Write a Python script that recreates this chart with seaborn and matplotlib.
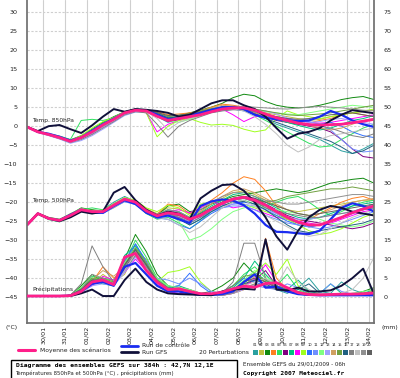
import numpy as np
import pandas as pd
import matplotlib
matplotlib.use('Agg')
import matplotlib.pyplot as plt
import seaborn as sns
from matplotlib.lines import Line2D
from matplotlib.patches import Rectangle

# échéances (h) depuis le run du 29/01/2009 06h
hours = list(range(0, 385, 12))
day_hours = [18 + 24 * k for k in range(16)]
day_labels = ['30/01', '31/01', '01/02', '02/02', '03/02', '04/02', '05/02', '06/02',
              '07/02', '08/02', '09/02', '10/02', '11/02', '12/02', '13/02', '14/02']

members = ['%02d' % (k + 1) for k in range(20)]
member_colors = ['#2aa0a0', '#c0c040', '#108a10', '#ff8020', '#30e060', '#800080', '#00c080',
                 '#ff00ff', '#a0ff20', '#3070ff', '#7090ff', '#80ff80', '#a0a0ff', '#d0a060',
                 '#70a040', '#206080', '#808080', '#c0c0c0', '#909090', '#606060']

# Temp 850hPa (°C)
t850_mean = [-0.2, -1.5, -2.2, -3.0, -4.0, -3.0, -1.5, 0.3, 1.8, 3.5, 4.2, 4.0, 2.6, 1.5, 2.0, 2.5, 3.0,
             3.8, 4.5, 4.8, 4.8, 4.2, 3.2, 2.2, 1.5, 0.8, 0.4, 0.3, 0.4, 0.5, 0.9, 1.3, 1.8]
t850_ctrl = [-0.2, -1.5, -2.0, -2.8, -3.8, -3.0, -1.2, 0.5, 2.0, 3.5, 4.3, 4.2, 3.0, 1.8, 2.0, 2.8, 3.5,
             4.3, 5.0, 5.0, 4.5, 3.0, 2.2, 1.8, 1.5, 1.3, 1.5, 2.5, 4.0, 3.0, 1.5, 0.5, -0.2]
t850_gfs = [-0.2, -1.3, 0.0, 0.3, -0.8, -1.8, 0.2, 2.5, 4.5, 3.8, 4.5, 4.3, 4.0, 3.5, 2.5, 3.0, 4.5,
            6.0, 6.8, 6.8, 5.5, 4.5, 2.5, -0.5, -3.3, -2.0, -1.5, -0.5, 1.5, 3.0, 4.2, 3.8, 3.4]
t850_members = [
    [-0.2, -1.4, -2.0, -2.9, -3.8, -2.7, -1.0, 0.8, 2.2, 3.6, 4.3, 3.8, 2.5, 1.0, 1.8, 2.6, 3.3, 4.0, 4.6, 4.8, 4.5, 3.5, 2.0, 0.5, -0.5, -1.5, -2.5, -3.5, -5.0, -6.5, -7.2, -6.0, -4.5],
    [-0.2, -1.6, -2.3, -3.1, -4.2, -3.3, -1.8, 0.0, 1.5, 3.2, 4.0, 4.1, 3.5, 2.5, 2.8, 3.0, 3.5, 4.2, 5.0, 5.2, 4.8, 4.0, 3.5, 3.0, 2.5, 2.0, 1.5, 1.8, 2.5, 3.0, 3.5, 3.8, 4.2],
    [-0.2, -1.5, -2.1, -2.8, -3.6, -2.5, -0.8, 1.0, 2.5, 3.8, 4.5, 4.2, 3.2, 2.0, 2.8, 3.5, 4.2, 5.0, 6.0, 7.5, 8.4, 8.0, 6.5, 5.5, 5.0, 4.8, 5.0, 5.5, 6.2, 7.0, 7.5, 7.8, 7.0],
    [-0.2, -1.5, -2.4, -3.2, -4.1, -3.2, -1.6, 0.2, 1.8, 3.4, 4.2, 4.3, 3.8, 3.0, 3.2, 3.5, 4.0, 5.0, 5.8, 5.5, 5.0, 4.0, 3.0, 2.0, 1.0, 0.5, 0.8, 1.5, 2.0, 3.0, 3.5, 3.0, 2.5],
    [-0.2, -1.4, -2.0, -2.6, -3.5, 1.5, 1.8, 1.5, 2.2, 3.8, 4.5, 4.0, 3.0, 2.0, 2.5, 3.0, 3.8, 4.5, 5.0, 5.2, 4.5, 3.0, 1.5, 0.0, -1.5, -3.0, -4.5, -5.5, -5.2, -3.5, -2.0, -0.5, 0.5],
    [-0.2, -1.5, -2.2, -3.1, -4.0, -3.1, -1.5, 0.4, 2.0, 3.6, 4.2, 3.9, 2.8, 1.2, 1.8, 2.6, 3.2, 4.0, 4.5, 4.6, 4.2, 3.5, 2.5, 1.5, 1.0, 0.5, 0.0, -0.5, -1.5, -3.5, -6.0, -8.0, -8.4],
    [-0.2, -1.5, -2.1, -3.0, -3.9, -2.8, -1.2, 0.6, 2.0, 3.6, 4.3, 4.1, 3.3, 2.2, 2.5, 2.8, 3.5, 4.2, 4.8, 5.0, 4.6, 3.8, 2.8, 1.8, 1.0, 0.2, -0.5, -1.0, -0.5, 0.5, 1.5, 2.0, 2.8],
    [-0.2, -1.6, -2.3, -3.0, -4.0, -3.0, -1.4, 0.4, 1.9, 3.5, 4.0, 3.5, -1.5, 0.5, 1.5, 2.2, 3.0, 4.0, 4.5, 3.0, 1.2, 2.5, 3.0, 2.5, 2.0, 1.5, 1.0, 0.8, 1.0, 1.5, 2.0, 2.5, 3.0],
    [-0.2, -1.4, -2.1, -2.9, -3.8, -2.5, -0.5, 1.2, 2.3, 3.8, 4.4, 3.5, -2.8, 0.0, 1.5, 2.0, 1.0, 0.3, 0.5, 0.2, -0.8, -1.5, -1.0, 2.0, 4.0, 3.0, 2.5, 2.0, 2.5, 3.0, 3.5, 4.0, 4.5],
    [-0.2, -1.5, -2.2, -3.1, -4.1, -3.2, -1.8, 0.0, 1.6, 3.3, 4.1, 4.0, 3.2, 1.8, 2.2, 2.8, 3.5, 4.2, 4.6, 4.5, 4.0, 3.0, 2.5, 2.0, 1.5, 1.0, 0.5, 0.5, 1.0, 0.0, -1.5, -2.5, -3.0],
    [-0.2, -1.5, -2.3, -3.2, -4.3, -3.5, -2.0, -0.2, 1.4, 3.0, 3.9, 4.0, 3.5, 2.5, 2.5, 2.8, 3.2, 3.8, 4.2, 4.5, 4.4, 3.8, 3.0, 2.2, 1.8, 1.5, 1.2, 0.5, -1.0, -3.5, -6.0, -6.8, -6.5],
    [-0.2, -1.4, -2.0, -2.7, -3.7, -2.8, -1.0, 0.7, 2.1, 3.7, 4.4, 4.0, 3.0, 1.5, 1.0, 1.8, 2.8, 3.8, 4.6, 4.9, 4.8, 4.3, 3.8, 3.5, 3.2, 3.0, 3.5, 4.0, 4.5, 5.0, 5.5, 5.2, 5.0],
    [-0.2, -1.7, -2.5, -3.4, -4.5, -3.8, -2.5, -0.8, 1.0, 2.8, 3.7, 3.8, 3.4, 2.5, 2.3, 2.5, 3.0, 3.6, 4.1, 4.4, 4.6, 4.4, 4.0, 3.2, 2.2, 1.5, 1.0, 1.2, 1.8, 2.0, 1.5, 1.0, 0.5],
    [-0.2, -1.5, -2.2, -3.0, -4.0, -3.0, -1.3, 0.4, 1.9, 3.5, 4.2, 4.0, 3.1, 2.0, 2.5, 3.2, 4.0, 4.8, 5.5, 5.3, 4.5, 3.5, 2.5, 1.8, 1.2, 0.8, 0.2, -0.5, -1.0, -0.5, 0.5, 1.5, 2.0],
    [-0.2, -1.5, -2.2, -2.9, -3.8, -2.8, -1.2, 0.5, 2.0, 3.6, 4.3, 4.2, 3.5, 2.5, 2.8, 3.3, 4.0, 4.6, 5.0, 5.0, 4.8, 4.5, 4.0, 3.5, 3.0, 2.8, 3.0, 3.2, 3.5, 4.0, 4.5, 5.0, 5.5],
    [-0.2, -1.5, -2.2, -3.1, -4.0, -3.0, -1.5, 0.2, 1.7, 3.4, 4.1, 4.0, 3.3, 2.2, 2.4, 2.8, 3.4, 4.0, 4.5, 4.6, 4.2, 3.2, 2.0, 1.0, 0.0, -1.0, -2.0, -3.0, -4.0, -5.5, -7.2, -6.5, -5.0],
    [-0.2, -1.6, -2.4, -3.3, -4.3, -3.5, -2.2, -0.5, 1.2, 3.0, 3.8, 3.5, 0.5, -2.9, 0.0, 1.5, 2.5, 3.5, 4.0, 4.3, 4.2, 3.8, 3.0, 2.0, 1.5, 1.0, 0.5, 0.0, -0.5, -1.5, -2.5, -3.0, -2.0],
    [-0.2, -1.5, -2.3, -3.2, -4.2, -3.3, -1.8, 0.0, 1.5, 3.2, 4.0, 3.8, 2.0, -1.0, 1.0, 2.0, 3.0, 3.8, 4.4, 4.6, 4.0, 2.5, 0.5, -2.0, -5.0, -6.8, -5.5, -3.5, -2.5, -2.0, -1.5, -1.0, -0.5],
    [-0.2, -1.5, -2.2, -3.0, -4.0, -3.1, -1.6, 0.2, 1.8, 3.4, 4.1, 4.0, 3.0, 1.8, 2.2, 2.8, 3.6, 4.4, 5.0, 5.2, 5.2, 5.0, 4.8, 4.6, 4.5, 4.8, 5.0, 5.2, 5.0, 4.8, 4.5, 4.2, 4.0],
    [-0.2, -1.5, -2.1, -2.9, -3.9, -2.9, -1.3, 0.5, 2.0, 3.6, 4.3, 4.2, 3.6, 2.8, 2.9, 3.2, 3.8, 4.4, 4.9, 5.0, 4.7, 4.0, 3.2, 2.5, 2.0, 1.8, 2.0, 2.5, 3.0, 3.2, 3.5, 3.0, 2.5],
]

# Temp 500hPa (°C)
t500_mean = [-26.0, -23.0, -24.3, -24.8, -23.5, -22.0, -22.5, -22.5, -20.8, -19.2, -20.0, -22.3, -23.6, -22.8,
             -23.2, -24.5, -23.5, -21.8, -20.3, -19.2, -18.7, -19.5, -20.8, -22.5, -24.0, -25.3, -26.0, -26.0,
             -25.0, -24.0, -22.8, -21.8, -21.0]
t500_ctrl = [-26.0, -23.0, -24.3, -24.8, -23.3, -22.0, -22.7, -22.8, -21.0, -19.5, -20.5, -22.8, -24.0, -23.5,
             -24.5, -25.5, -21.0, -19.8, -19.3, -19.6, -20.8, -23.0, -26.0, -27.8, -27.9, -28.2, -28.4, -27.5,
             -24.5, -21.5, -20.3, -21.0, -22.5]
t500_gfs = [-26.0, -23.0, -24.3, -25.0, -24.0, -22.5, -23.0, -22.5, -17.5, -16.0, -19.5, -22.0, -23.5, -22.5,
            -23.0, -24.5, -19.0, -17.0, -15.5, -15.3, -17.0, -20.0, -24.0, -29.0, -32.5, -27.5, -24.0, -22.0,
            -21.0, -21.5, -22.5, -23.0, -23.5]
t500_members = [
    [-26.0, -23.1, -24.5, -25.0, -23.8, -22.3, -22.5, -22.0, -20.0, -18.5, -19.8, -22.5, -24.0, -23.0, -24.0, -26.0, -24.5, -22.0, -20.5, -19.5, -19.0, -19.8, -21.5, -23.0, -24.5, -25.5, -26.5, -26.0, -25.0, -24.0, -22.5, -21.5, -20.5],
    [-26.0, -23.0, -24.2, -24.6, -23.0, -21.8, -22.0, -22.8, -21.5, -19.8, -20.0, -21.8, -23.0, -21.5, -21.8, -23.0, -22.5, -20.5, -19.0, -17.5, -17.0, -18.0, -19.5, -21.0, -22.0, -22.5, -22.0, -21.5, -21.0, -20.5, -20.0, -19.5, -19.5],
    [-26.0, -22.9, -24.0, -24.5, -23.2, -21.5, -22.0, -22.3, -20.5, -19.0, -19.8, -22.0, -23.5, -21.0, -20.5, -22.5, -22.0, -20.5, -19.5, -18.5, -18.0, -17.5, -17.0, -16.5, -17.0, -17.5, -17.0, -16.0, -15.0, -14.5, -14.0, -13.7, -15.0],
    [-26.0, -23.0, -24.4, -24.9, -23.6, -22.0, -22.6, -22.4, -20.6, -19.0, -19.6, -21.8, -23.2, -20.5, -21.0, -23.0, -21.5, -19.5, -17.5, -15.0, -13.3, -14.0, -17.0, -21.0, -24.0, -25.0, -24.5, -23.0, -21.5, -20.0, -19.0, -18.5, -19.5],
    [-26.0, -23.2, -24.6, -25.2, -24.0, -22.0, -21.5, -22.0, -20.8, -19.5, -20.5, -23.0, -24.5, -24.0, -25.5, -27.0, -25.0, -22.5, -21.0, -20.0, -19.5, -20.5, -21.0, -20.0, -19.0, -18.5, -20.0, -22.0, -23.5, -22.5, -21.0, -20.0, -19.5],
    [-26.0, -23.0, -24.3, -24.9, -23.4, -22.1, -22.6, -22.6, -20.9, -19.3, -20.2, -22.5, -24.0, -23.5, -24.0, -25.0, -23.5, -21.5, -20.0, -19.0, -18.5, -19.0, -20.5, -22.0, -23.5, -24.5, -25.0, -25.5, -26.0, -26.5, -27.0, -26.5, -25.5],
    [-26.0, -23.1, -24.2, -24.7, -23.3, -21.9, -22.4, -22.4, -20.7, -19.1, -20.0, -22.0, -23.3, -22.0, -22.5, -24.0, -22.8, -21.0, -19.5, -18.0, -17.5, -18.5, -20.0, -21.5, -23.0, -24.0, -24.5, -24.0, -23.0, -22.0, -21.0, -20.5, -20.0],
    [-26.0, -23.0, -24.4, -25.0, -23.7, -22.2, -22.8, -22.9, -21.2, -19.6, -20.3, -22.6, -23.8, -22.5, -22.0, -22.8, -21.5, -20.0, -20.5, -21.5, -21.0, -22.0, -23.0, -24.0, -24.5, -25.0, -25.5, -26.0, -25.5, -24.5, -23.5, -22.5, -22.0],
    [-26.0, -23.1, -24.3, -24.8, -23.5, -22.0, -22.3, -22.1, -20.4, -18.8, -19.5, -21.5, -22.5, -20.8, -21.5, -23.5, -20.5, -20.0, -19.5, -20.0, -20.5, -21.5, -22.5, -23.5, -24.5, -26.0, -27.5, -28.5, -28.0, -27.0, -25.5, -24.0, -23.0],
    [-26.0, -23.0, -24.3, -24.9, -23.5, -22.1, -22.6, -22.7, -21.0, -19.4, -20.2, -22.4, -24.2, -24.5, -26.0, -27.0, -25.0, -23.0, -21.5, -20.5, -20.0, -20.5, -22.0, -23.5, -25.0, -26.0, -26.5, -26.0, -25.0, -24.0, -23.0, -22.0, -21.5],
    [-26.0, -23.0, -24.5, -25.1, -23.9, -22.4, -22.9, -23.0, -21.4, -19.9, -20.6, -22.8, -24.2, -23.8, -24.5, -25.5, -24.0, -22.5, -21.5, -21.0, -21.0, -22.0, -23.5, -24.5, -25.5, -26.0, -26.5, -27.0, -26.5, -25.5, -24.5, -23.5, -22.5],
    [-26.0, -22.9, -24.1, -24.6, -23.1, -21.7, -22.2, -22.3, -20.6, -19.0, -19.8, -21.9, -23.4, -23.0, -25.0, -30.0, -29.0, -27.0, -24.5, -22.5, -21.5, -21.0, -21.5, -22.0, -22.5, -23.0, -23.5, -24.5, -25.5, -26.0, -26.5, -26.0, -25.0],
    [-26.0, -23.0, -24.4, -24.9, -23.6, -22.2, -22.7, -22.6, -20.9, -19.3, -20.1, -22.3, -23.6, -23.0, -23.8, -25.0, -23.5, -22.0, -21.0, -20.5, -20.5, -21.0, -22.0, -23.0, -24.0, -24.5, -24.5, -24.0, -23.5, -23.0, -22.5, -22.0, -21.5],
    [-26.0, -23.0, -24.2, -24.7, -23.4, -21.9, -22.3, -22.4, -20.8, -19.2, -19.9, -22.0, -23.4, -22.5, -23.0, -24.0, -22.5, -20.5, -18.5, -17.0, -16.5, -17.5, -19.0, -20.5, -22.0, -23.0, -23.5, -23.0, -22.0, -21.0, -20.0, -19.5, -19.0],
    [-26.0, -23.1, -24.3, -24.8, -23.5, -22.0, -22.5, -22.5, -20.8, -19.2, -20.0, -22.2, -23.5, -22.8, -23.5, -24.8, -23.0, -21.5, -20.0, -19.0, -18.8, -19.5, -20.0, -19.5, -18.5, -18.0, -17.5, -17.0, -16.5, -16.5, -16.0, -16.5, -17.0],
    [-26.0, -23.0, -24.3, -24.8, -23.5, -22.1, -22.6, -22.5, -20.9, -19.3, -20.2, -22.5, -24.0, -23.5, -24.5, -26.0, -24.5, -22.5, -21.0, -20.0, -19.8, -20.5, -22.0, -24.0, -26.0, -27.5, -28.0, -27.5, -27.0, -26.5, -26.0, -25.5, -24.5],
    [-26.0, -23.0, -24.4, -24.9, -23.6, -22.2, -22.7, -22.6, -20.9, -19.3, -20.0, -22.0, -23.5, -23.0, -24.0, -25.5, -24.0, -22.0, -20.5, -19.5, -19.0, -20.0, -21.5, -22.5, -23.0, -23.5, -24.0, -24.0, -23.5, -23.0, -22.5, -22.0, -21.5],
    [-26.0, -23.1, -24.5, -25.0, -23.8, -22.3, -22.8, -22.8, -21.1, -19.5, -20.3, -22.6, -24.0, -24.5, -26.0, -28.0, -26.5, -24.0, -21.5, -20.0, -19.5, -21.0, -23.5, -25.0, -26.5, -28.0, -29.0, -28.5, -27.0, -25.5, -24.0, -23.0, -22.0],
    [-26.0, -23.0, -24.2, -24.7, -23.3, -21.8, -22.3, -22.4, -20.6, -19.0, -19.8, -22.0, -23.2, -22.0, -22.5, -24.0, -22.0, -20.0, -18.5, -17.5, -17.5, -18.5, -19.5, -20.0, -20.5, -20.5, -20.0, -19.5, -19.0, -18.5, -18.0, -18.0, -18.5],
    [-26.0, -23.0, -24.3, -24.8, -23.4, -22.0, -22.5, -22.6, -20.8, -19.2, -20.0, -22.3, -23.6, -23.0, -23.5, -24.5, -23.0, -21.5, -20.0, -19.0, -18.5, -19.0, -20.0, -21.0, -22.0, -23.0, -23.5, -23.0, -22.5, -22.0, -21.5, -21.0, -20.5],
]

# Précipitations (mm)
rr_mean = [0.3, 0.3, 0.3, 0.3, 0.4, 1.5, 4.0, 4.5, 3.3, 10.5, 11.5, 7.0, 4.0, 2.0, 2.2, 1.5, 0.9,
           0.9, 1.3, 2.2, 2.9, 2.6, 3.6, 3.8, 2.5, 1.2, 0.7, 0.6, 0.7, 0.8, 0.8, 0.9, 1.1]
rr_ctrl = [0.3, 0.3, 0.3, 0.3, 0.4, 1.5, 3.5, 4.0, 3.0, 8.0, 9.0, 6.0, 3.0, 1.5, 1.5, 1.0, 0.6,
           0.6, 0.8, 1.5, 4.0, 6.0, 2.5, 2.8, 1.5, 0.8, 0.6, 0.5, 0.5, 0.5, 0.5, 0.5, 0.5]
rr_gfs = [0.3, 0.3, 0.3, 0.3, 0.3, 1.0, 2.0, 0.3, 0.3, 4.5, 7.5, 4.0, 2.0, 1.0, 0.8, 0.7, 0.6,
          0.5, 1.5, 2.0, 2.2, 2.0, 15.2, 2.0, 1.8, 2.5, 1.5, 1.5, 1.8, 3.0, 5.0, 7.5, 0.8]
rr_members = [
    [0.3, 0.3, 0.3, 0.3, 0.5, 2.0, 5.0, 4.5, 3.0, 8.0, 14.0, 9.0, 4.0, 2.0, 1.5, 1.0, 0.6, 0.5, 0.8, 2.0, 4.0, 6.5, 4.5, 2.0, 1.0, 2.5, 5.0, 1.5, 1.0, 4.0, 2.0, 1.0, 2.0],
    [0.3, 0.3, 0.3, 0.3, 0.4, 1.5, 3.5, 6.0, 4.0, 6.0, 12.0, 10.0, 5.0, 2.5, 2.0, 1.5, 1.0, 0.5, 0.5, 1.0, 2.0, 3.5, 3.0, 2.5, 1.5, 1.0, 0.5, 0.5, 0.5, 0.5, 0.8, 1.0, 1.0],
    [0.3, 0.3, 0.3, 0.3, 0.5, 3.0, 6.0, 4.0, 3.5, 10.0, 16.5, 12.0, 6.0, 3.0, 2.0, 1.5, 1.0, 1.5, 3.0, 5.0, 9.0, 6.0, 4.0, 3.0, 2.0, 1.0, 0.8, 0.5, 0.5, 0.5, 0.8, 1.5, 2.5],
    [0.3, 0.3, 0.3, 0.3, 0.4, 2.0, 4.0, 8.0, 5.0, 7.0, 11.0, 8.0, 4.5, 2.0, 2.5, 2.0, 1.0, 0.5, 0.5, 1.0, 2.0, 3.0, 15.5, 5.0, 2.0, 1.0, 0.5, 0.5, 0.5, 0.8, 1.0, 1.0, 1.5],
    [0.3, 0.3, 0.3, 0.3, 0.5, 2.5, 5.5, 5.0, 4.5, 9.0, 15.0, 10.5, 5.0, 3.0, 2.5, 1.5, 0.8, 0.5, 1.0, 3.0, 6.0, 8.0, 5.0, 3.0, 6.0, 2.0, 1.0, 0.8, 0.5, 0.5, 0.5, 0.5, 0.5],
    [0.3, 0.3, 0.3, 0.3, 0.4, 1.8, 4.0, 5.0, 3.5, 7.5, 12.0, 8.5, 4.0, 2.0, 1.5, 1.0, 0.5, 0.5, 0.5, 1.5, 3.0, 4.5, 7.0, 3.0, 1.5, 0.8, 0.5, 0.5, 0.5, 0.5, 0.5, 0.5, 0.5],
    [0.3, 0.3, 0.3, 0.3, 0.5, 2.2, 4.5, 3.5, 3.0, 11.0, 13.5, 9.0, 4.5, 2.5, 3.0, 2.0, 1.0, 0.5, 1.0, 2.5, 5.0, 9.5, 6.0, 3.0, 2.0, 4.5, 1.5, 1.0, 3.5, 1.0, 0.8, 0.5, 0.8],
    [0.3, 0.3, 0.3, 0.3, 0.4, 1.5, 3.0, 5.5, 4.5, 6.5, 10.0, 7.0, 3.5, 1.5, 1.0, 0.8, 0.5, 0.5, 0.5, 1.0, 2.5, 5.0, 8.5, 4.0, 2.0, 1.0, 0.5, 0.5, 0.5, 0.5, 0.5, 0.5, 0.5],
    [0.3, 0.3, 0.3, 0.3, 0.5, 2.0, 5.0, 4.0, 3.5, 8.5, 12.5, 8.0, 4.0, 6.5, 7.0, 8.0, 4.0, 1.5, 1.0, 2.0, 3.5, 6.5, 9.0, 6.0, 10.0, 3.0, 1.0, 0.5, 0.5, 1.0, 0.8, 0.5, 0.5],
    [0.3, 0.3, 0.3, 0.3, 0.5, 2.0, 4.5, 4.0, 3.5, 9.5, 14.0, 9.5, 4.5, 2.5, 3.0, 6.3, 3.0, 1.0, 1.5, 3.0, 5.0, 4.0, 3.0, 2.0, 1.5, 1.0, 0.8, 0.5, 0.5, 0.8, 1.0, 1.0, 1.0],
    [0.3, 0.3, 0.3, 0.3, 0.4, 1.5, 3.5, 4.0, 3.0, 7.0, 11.0, 8.0, 5.0, 4.5, 3.5, 5.0, 3.5, 1.5, 1.0, 1.5, 2.5, 3.0, 2.5, 2.0, 3.5, 2.5, 1.0, 1.0, 3.5, 1.5, 0.8, 0.5, 0.5],
    [0.3, 0.3, 0.3, 0.3, 0.5, 2.5, 5.0, 4.5, 4.0, 9.0, 13.0, 9.0, 5.0, 3.0, 2.5, 2.0, 1.0, 0.5, 0.8, 2.0, 4.5, 7.0, 5.5, 3.5, 2.5, 1.5, 1.0, 0.8, 0.5, 0.8, 1.0, 1.5, 2.0],
    [0.3, 0.3, 0.3, 0.3, 0.4, 1.2, 3.0, 3.5, 3.0, 6.5, 10.5, 7.5, 4.0, 2.0, 1.5, 1.0, 0.8, 0.5, 0.5, 1.0, 2.0, 3.0, 3.5, 2.5, 1.5, 1.0, 0.8, 0.5, 0.5, 0.5, 0.5, 0.5, 0.5],
    [0.3, 0.3, 0.3, 0.3, 0.5, 1.8, 4.5, 7.0, 5.5, 8.0, 12.0, 8.5, 4.0, 2.0, 1.5, 1.2, 0.8, 0.5, 0.5, 1.2, 3.0, 5.5, 4.0, 2.5, 1.5, 1.0, 0.8, 0.5, 0.5, 0.5, 0.5, 0.5, 0.8],
    [0.3, 0.3, 0.3, 0.3, 0.5, 2.2, 5.0, 5.0, 4.0, 8.5, 13.0, 9.0, 4.5, 2.5, 2.0, 1.5, 1.0, 0.8, 1.5, 3.0, 5.5, 6.0, 4.5, 3.0, 2.0, 1.5, 1.0, 0.8, 0.5, 0.5, 0.8, 1.0, 1.5],
    [0.3, 0.3, 0.3, 0.3, 0.5, 2.0, 4.5, 4.5, 3.5, 8.0, 12.5, 8.5, 4.0, 2.0, 1.5, 1.0, 0.8, 0.5, 0.8, 2.0, 3.5, 4.5, 3.5, 2.0, 1.5, 2.0, 3.5, 1.0, 0.8, 0.5, 0.5, 0.5, 0.5],
    [0.3, 0.3, 0.3, 0.3, 0.5, 3.5, 13.5, 8.0, 4.0, 7.0, 11.0, 8.0, 4.0, 2.0, 1.5, 1.0, 0.6, 0.5, 1.0, 4.0, 14.2, 14.2, 5.0, 2.5, 1.5, 1.0, 0.8, 0.5, 0.5, 0.5, 0.5, 0.8, 1.0],
    [0.3, 0.3, 0.3, 0.3, 0.4, 1.5, 4.0, 4.5, 3.0, 7.0, 11.5, 7.5, 4.0, 2.0, 1.5, 1.0, 0.6, 0.5, 0.5, 1.5, 3.0, 4.0, 5.0, 3.0, 8.0, 4.0, 2.0, 1.0, 0.8, 1.0, 2.0, 5.0, 10.5],
    [0.3, 0.3, 0.3, 0.3, 0.4, 2.0, 6.0, 5.0, 3.5, 8.0, 12.0, 8.0, 4.0, 2.0, 1.5, 1.0, 0.6, 0.5, 0.5, 1.0, 2.5, 3.5, 3.0, 2.0, 1.5, 1.0, 0.8, 0.5, 0.5, 0.5, 0.5, 0.5, 0.5],
    [0.3, 0.3, 0.3, 0.3, 0.5, 2.0, 4.5, 4.5, 3.5, 8.5, 12.5, 8.5, 4.0, 2.0, 1.5, 1.0, 0.8, 0.5, 0.8, 2.0, 4.0, 5.0, 4.0, 2.5, 1.5, 1.0, 0.8, 0.6, 0.5, 0.5, 0.5, 0.5, 0.5],
]

MEAN_C = '#ff1f8a'
CTRL_C = '#1a2cf0'
GFS_C = '#10103a'
TXT = '#222222'


def to_long(series_list):
    rows = []
    for name, vals in zip(members, series_list):
        for h, v in zip(hours, vals):
            rows.append((name, h, v))
    return pd.DataFrame(rows, columns=['run', 'hour', 'value'])


sns.set_theme(style='white')
plt.rcParams['font.family'] = ['DejaVu Sans']

fig = plt.figure(figsize=(4, 3.78), dpi=100)
ax = fig.add_axes([27 / 400, 55 / 378, 347 / 400, 323 / 378])
ax.set_xlim(0, 384)
ax.set_ylim(-51.8, 33.2)
ax2 = ax.twinx()
ax2.set_ylim(-6.8, 78.2)

palette = dict(zip(members, member_colors))

for ser, axx in [(t850_members, ax), (t500_members, ax), (rr_members, ax2)]:
    sns.lineplot(data=to_long(ser), x='hour', y='value', hue='run', palette=palette,
                 estimator=None, lw=0.7, legend=False, ax=axx)

for ctrl, gfs, mean, axx in [(t850_ctrl, t850_gfs, t850_mean, ax),
                             (t500_ctrl, t500_gfs, t500_mean, ax),
                             (rr_ctrl, rr_gfs, rr_mean, ax2)]:
    sns.lineplot(x=hours, y=ctrl, color=CTRL_C, lw=1.6, ax=axx)
    sns.lineplot(x=hours, y=gfs, color=GFS_C, lw=1.4, ax=axx)
    sns.lineplot(x=hours, y=mean, color=MEAN_C, lw=2.0, ax=axx)

# grille
ax.set_yticks(list(range(-45, 31, 5)))
ax2.set_yticks(list(range(0, 76, 5)))
ax.set_xticks(day_hours, day_labels, rotation=90)
for h in day_hours:
    ax.axvline(h, color='#cfcfcf', lw=0.8, zorder=0)
for v in range(-45, 31, 5):
    ax.axhline(v, color='#cfcfcf', lw=0.8, ls=(0, (2, 1.5)), zorder=0)

for a in (ax, ax2):
    a.set_xlabel('')
    a.set_ylabel('')
    for s in a.spines.values():
        s.set_visible(False)
    a.tick_params(length=0, labelsize=4.6, colors=TXT)
ax.tick_params(axis='y', pad=7)
ax2.tick_params(axis='y', pad=7)
ax.tick_params(axis='x', pad=2, labelsize=4.6)
ax.spines['left'].set_visible(True)
ax.spines['left'].set_color('#707070')
ax.spines['bottom'].set_visible(True)
ax.spines['bottom'].set_color('#707070')
ax2.spines['right'].set_visible(True)
ax2.spines['right'].set_color('#707070')

ax.text(5.5, 1.6, 'Temp. 850hPa', fontsize=4.3, va='center', color=TXT)
ax.text(5.5, -19.5, 'Temp. 500hPa', fontsize=4.3, va='center', color=TXT)
ax.text(5.5, -42.9, 'Précipitations', fontsize=4.3, va='center', color=TXT)

def fx(px):
    return px / 400

def fy(py):
    return 1 - py / 378

fig.text(fx(5), fy(327), '(°C)', fontsize=4.4, va='center', color=TXT)
fig.text(fx(382), fy(327), '(mm)', fontsize=4.4, va='center', color=TXT)

# légende
fig.add_artist(Line2D([fx(18), fx(35)], [fy(350), fy(350)], color=MEAN_C, lw=2.2))
fig.text(fx(40), fy(350), 'Moyenne des scénarios', fontsize=4.3, va='center', color=TXT)
fig.add_artist(Line2D([fx(121), fx(138)], [fy(346), fy(346)], color=CTRL_C, lw=2.0))
fig.add_artist(Line2D([fx(121), fx(138)], [fy(352), fy(352)], color=GFS_C, lw=2.0))
fig.text(fx(142), fy(345.5), 'Run de contrôle', fontsize=4.3, va='center', color=TXT)
fig.text(fx(142), fy(352), 'Run GFS', fontsize=4.3, va='center', color=TXT)
fig.text(fx(199), fy(352), '20 Perturbations', fontsize=4.3, va='center', color=TXT)
for k, (m, c) in enumerate(zip(members, member_colors)):
    x0 = 253 + 6 * k
    fig.text(fx(x0 + 2.5), fy(345), m, fontsize=2.6, ha='center', va='center', color=TXT)
    fig.add_artist(Rectangle((fx(x0), fy(355)), 5 / 400, 5 / 378, transform=fig.transFigure,
                             facecolor=c, edgecolor='none'))

fig.add_artist(Rectangle((fx(11), fy(385)), 226 / 400, 25 / 378, transform=fig.transFigure,
                         fill=False, edgecolor='black', lw=1.0))
fig.text(fx(16), fy(365), 'Diagramme des ensembles GEFS sur 384h : 42,7N 12,1E',
         fontsize=4.6, fontweight='bold', family='DejaVu Sans Mono', va='center', color='black')
fig.text(fx(15), fy(373), 'Températures 850hPa et 500hPa (°C) , précipitations (mm)',
         fontsize=3.9, va='center', color=TXT)
fig.text(fx(243), fy(364), 'Ensemble GEFS du 29/01/2009 - 06h', fontsize=4.1, va='center', color=TXT)
fig.text(fx(243), fy(374), 'Copyright 2007 Meteociel.fr', fontsize=4.4, fontweight='bold',
         family='DejaVu Sans Mono', va='center', color='black')

fig.savefig('out.png', dpi=100, facecolor='white')
